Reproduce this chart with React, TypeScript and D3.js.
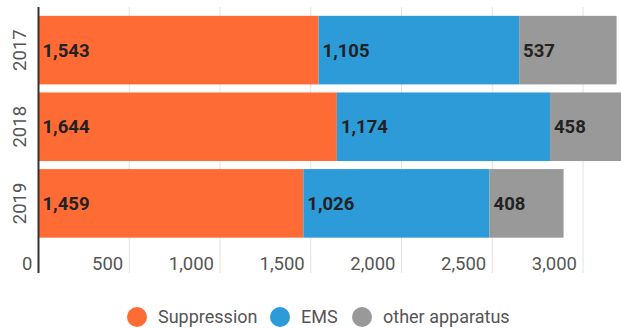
import * as d3 from "d3";
import { useEffect, useRef } from "react";

const years = ["2017", "2018", "2019"];
const suppression = [1543, 1644, 1459];
const ems = [1105, 1174, 1026];
const otherApparatus = [537, 458, 408];
const seriesNames = ["Suppression", "EMS", "other apparatus"];
const colors = ["#ff6b35", "#2d9bd8", "#999999"];
const xTicks = [0, 500, 1000, 1500, 2000, 2500, 3000];

const W = 621;
const H = 329;

const draw = (svgEl: SVGSVGElement) => {
    const svg = d3.select(svgEl);
    svg.selectAll("*").remove();
    const font = "Roboto, 'Noto Sans', sans-serif";

    const x = d3.scaleLinear().domain([0, 3000]).range([38.5, 583]);
    const y = d3.scaleBand().domain(years).range([12, 241.5]).paddingInner(0.105).paddingOuter(0.05);
    const gridTop = 7;
    const gridBottom = 273;

    // gridlines
    svg.append("g").selectAll("line")
        .data(xTicks.slice(1))
        .join("line")
        .attr("x1", d => x(d)).attr("x2", d => x(d))
        .attr("y1", gridTop).attr("y2", gridBottom)
        .attr("stroke", "#e2e2e2").attr("stroke-width", 1);

    const rows = years.map((yr, i) => ({ year: yr, s0: suppression[i], s1: ems[i], s2: otherApparatus[i] }));
    const stack = d3.stack<any>().keys(["s0", "s1", "s2"]);
    const layers = stack(rows);

    layers.forEach((layer, li) => {
        const g = svg.append("g");
        g.selectAll("rect")
            .data(layer)
            .join("rect")
            .attr("x", d => x(d[0]))
            .attr("width", d => x(d[1]) - x(d[0]))
            .attr("y", d => y(d.data.year)!)
            .attr("height", y.bandwidth())
            .attr("fill", colors[li]);
        g.selectAll("text")
            .data(layer)
            .join("text")
            .attr("x", d => x(d[0]) + 4)
            .attr("y", d => y(d.data.year)! + y.bandwidth() / 2)
            .attr("dy", "0.36em")
            .attr("font-family", font)
            .attr("font-size", 18.5)
            .attr("font-weight", "bold")
            .attr("fill", "#222")
            .text(d => d3.format(",")(d[1] - d[0]));
    });

    // axis line
    svg.append("line")
        .attr("x1", 38.5).attr("x2", 38.5)
        .attr("y1", gridTop).attr("y2", gridBottom)
        .attr("stroke", "#333").attr("stroke-width", 2);

    // x tick labels
    svg.append("g").selectAll("text")
        .data(xTicks)
        .join("text")
        .attr("x", d => x(d) - 6)
        .attr("y", 263)
        .attr("dy", "0.36em")
        .attr("text-anchor", "end")
        .attr("font-family", font)
        .attr("font-size", 18.5)
        .attr("fill", "#555")
        .text(d => d3.format(",")(d));

    // y labels
    svg.append("g").selectAll("text")
        .data(years)
        .join("text")
        .attr("transform", d => `translate(19,${y(d)! + y.bandwidth() / 2}) rotate(-90)`)
        .attr("dy", "0.36em")
        .attr("text-anchor", "middle")
        .attr("font-family", font)
        .attr("font-size", 18.5)
        .attr("fill", "#555")
        .text(d => d);

    // legend
    const legendX = [137, 280, 362];
    const leg = svg.append("g");
    seriesNames.forEach((name, i) => {
        leg.append("circle").attr("cx", legendX[i]).attr("cy", 317).attr("r", 10).attr("fill", colors[i]);
        leg.append("text")
            .attr("x", legendX[i] + 21).attr("y", 317).attr("dy", "0.36em")
            .attr("font-family", font).attr("font-size", 18).attr("fill", "#555")
            .text(name);
    });
};

export default function App() {
    const ref = useRef<SVGSVGElement>(null);
    useEffect(() => {
        if (ref.current) draw(ref.current);
    }, []);
    return (
        <svg ref={ref} width={W} height={H}
            style={{ position: "fixed", left: 0, top: 0, background: "#fff" }} />
    );
}
